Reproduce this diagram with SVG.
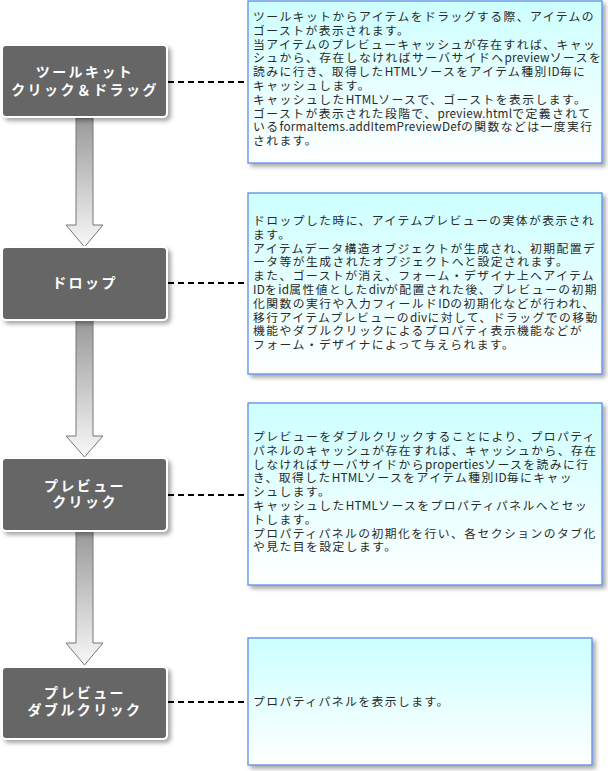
<svg xmlns="http://www.w3.org/2000/svg" width="608" height="771" viewBox="0 0 608 771">
<defs>
<linearGradient id="boxGrad" x1="0" y1="0" x2="0" y2="1">
<stop offset="0" stop-color="#ccffff"/>
<stop offset="1" stop-color="#ffffff"/>
</linearGradient>
<linearGradient id="arrowGrad" x1="0" y1="0" x2="0" y2="1">
<stop offset="0" stop-color="#999999"/>
<stop offset="1" stop-color="#f8f8f8"/>
</linearGradient>
<filter id="shadow" x="-10%" y="-10%" width="130%" height="130%">
<feDropShadow dx="3" dy="3" stdDeviation="2" flood-color="#000" flood-opacity="0.35"/>
</filter>
</defs>
<style>
.node rect { fill:#666666; stroke:#ffffff; stroke-width:2; filter:url(#shadow); }
.node text { font-family:"Noto Sans CJK JP","Noto Sans",sans-serif; font-size:14px; font-weight:bold; fill:#ffffff; text-anchor:middle; letter-spacing:2.4px; }
.box rect { fill:url(#boxGrad); stroke:#5b8def; stroke-width:1.3; filter:url(#shadow); }
.box text { font-family:"Noto Sans CJK JP","Noto Sans",sans-serif; font-size:11.8px; fill:#2a2a2a; letter-spacing:1.45px; }
.box tspan.l { letter-spacing:0.2px; }
.dash { stroke:#000; stroke-width:2; stroke-dasharray:6 4; fill:none; }
.arrow { fill:url(#arrowGrad); stroke:#777777; stroke-width:1; }
</style>
<g id="connectors">
<polygon class="arrow" points="76,118 93,118 93,225 103,225 84.5,247 66,225 76,225"/>
<polygon class="arrow" points="76,320 93,320 93,436 103,436 84.5,457 66,436 76,436"/>
<polygon class="arrow" points="76,531 93,531 93,643 103,643 84.5,665 66,643 76,643"/>
<line class="dash" x1="168" y1="82" x2="248" y2="82"/>
<line class="dash" x1="168" y1="283" x2="248" y2="283"/>
<line class="dash" x1="168" y1="495" x2="248" y2="495"/>
<line class="dash" x1="168" y1="702" x2="248" y2="702"/>
</g>
<g id="node1" class="node">
<rect x="2" y="45" width="165" height="72" rx="4"/>
<text x="85" y="77">ツールキット</text>
<text x="85" y="95">クリック＆ドラッグ</text>
</g>
<g id="node2" class="node">
<rect x="2" y="247" width="165" height="73" rx="4"/>
<text x="85" y="288">ドロップ</text>
</g>
<g id="node3" class="node">
<rect x="2" y="458" width="165" height="73" rx="4"/>
<text x="85" y="491">プレビュー</text>
<text x="85" y="507">クリック</text>
</g>
<g id="node4" class="node">
<rect x="2" y="667" width="165" height="72" rx="4"/>
<text x="85" y="698">プレビュー</text>
<text x="85" y="715">ダブルクリック</text>
</g>
<g id="box1" class="box">
<rect x="248" y="1" width="354" height="162"/>
<text x="253" y="21">ツールキットからアイテムをドラッグする際、アイテムの</text>
<text x="253" y="34.8">ゴーストが表示されます。</text>
<text x="253" y="48.6">当アイテムのプレビューキャッシュが存在すれば、キャッ</text>
<text x="253" y="62.4">シュから、存在しなければサーバサイドへ<tspan class="l">preview</tspan>ソースを</text>
<text x="253" y="76.2">読みに行き、取得した<tspan class="l">HTML</tspan>ソースをアイテム種別<tspan class="l">ID</tspan>毎に</text>
<text x="253" y="90">キャッシュします。</text>
<text x="253" y="103.8">キャッシュした<tspan class="l">HTML</tspan>ソースで、ゴーストを表示します。</text>
<text x="253" y="117.6">ゴーストが表示された段階で、<tspan class="l">preview.html</tspan>で定義されて</text>
<text x="253" y="131.4">いる<tspan class="l">formaItems.addItemPreviewDef</tspan>の関数などは一度実行</text>
<text x="253" y="145.2">されます。</text>
</g>
<g id="box2" class="box">
<rect x="248" y="193" width="354" height="181"/>
<text x="253" y="225">ドロップした時に、アイテムプレビューの実体が表示され</text>
<text x="253" y="238.8">ます。</text>
<text x="253" y="252.6">アイテムデータ構造オブジェクトが生成され、初期配置デ</text>
<text x="253" y="266.4">ータ等が生成されたオブジェクトへと設定されます。</text>
<text x="253" y="280.2">また、ゴーストが消え、フォーム・デザイナ上へアイテム</text>
<text x="253" y="294"><tspan class="l">ID</tspan>を<tspan class="l">id</tspan>属性値とした<tspan class="l">div</tspan>が配置された後、プレビューの初期</text>
<text x="253" y="307.8">化関数の実行や入力フィールド<tspan class="l">ID</tspan>の初期化などが行われ、</text>
<text x="253" y="321.6">移行アイテムプレビューの<tspan class="l">div</tspan>に対して、ドラッグでの移動</text>
<text x="253" y="335.4">機能やダブルクリックによるプロパティ表示機能などが</text>
<text x="253" y="349.2">フォーム・デザイナによって与えられます。</text>
</g>
<g id="box3" class="box">
<rect x="248" y="403" width="354" height="182"/>
<text x="253" y="441">プレビューをダブルクリックすることにより、プロパティ</text>
<text x="253" y="454.8">パネルのキャッシュが存在すれば、キャッシュから、存在</text>
<text x="253" y="468.6">しなければサーバサイドから<tspan class="l">properties</tspan>ソースを読みに行</text>
<text x="253" y="482.4">き、取得した<tspan class="l">HTML</tspan>ソースをアイテム種別<tspan class="l">ID</tspan>毎にキャッ</text>
<text x="253" y="496.2">シュします。</text>
<text x="253" y="510">キャッシュした<tspan class="l">HTML</tspan>ソースをプロパティパネルへとセッ</text>
<text x="253" y="523.8">トします。</text>
<text x="253" y="537.6">プロパティパネルの初期化を行い、各セクションのタブ化</text>
<text x="253" y="551.4">や見た目を設定します。</text>
</g>
<g id="box4" class="box">
<rect x="248" y="638" width="344" height="127"/>
<text x="253" y="706">プロパティパネルを表示します。</text>
</g>
</svg>
